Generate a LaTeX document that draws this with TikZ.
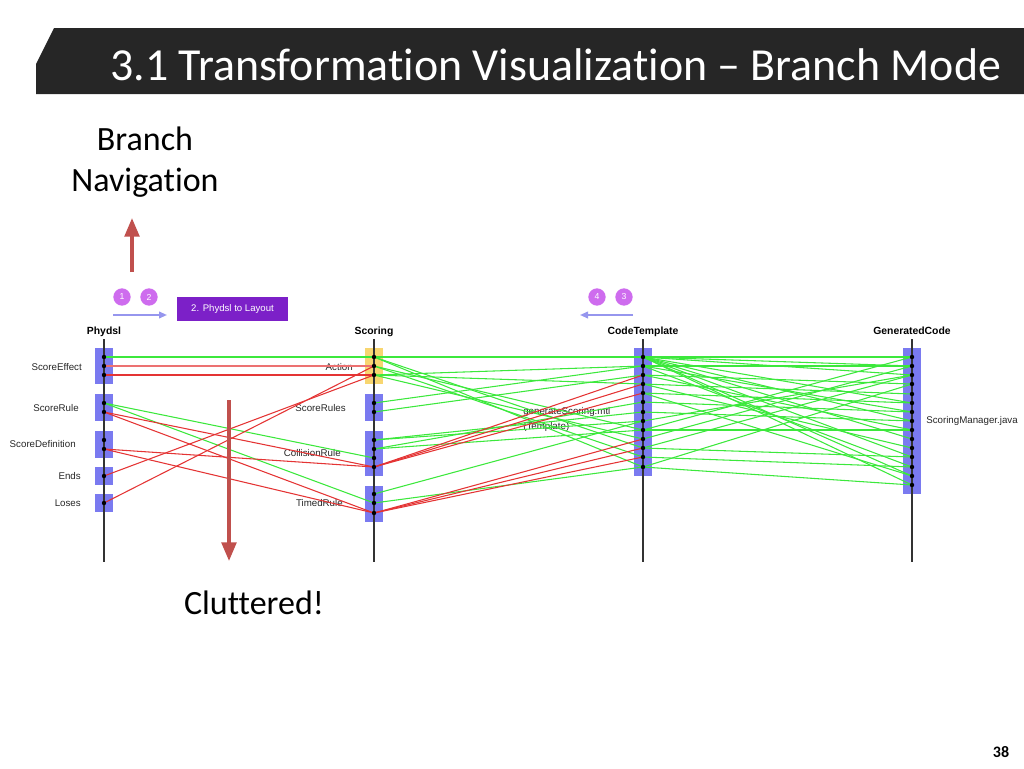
\documentclass[tikz,border=0pt]{standalone}
\usepackage{fontspec}
\setmainfont{Carlito}[Ligatures=NoCommon]
\newfontfamily\arialf{Liberation Sans}
\usetikzlibrary{arrows.meta}
\definecolor{titlebg}{RGB}{38,38,38}
\definecolor{bigred}{RGB}{192,80,77}
\definecolor{laneblue}{RGB}{122,122,240}
\definecolor{laneyellow}{RGB}{248,214,112}
\definecolor{gl}{RGB}{60,232,60}
\definecolor{rl}{RGB}{228,52,52}
\definecolor{circ}{RGB}{206,108,238}
\definecolor{purp}{RGB}{124,32,200}
\definecolor{flow}{RGB}{150,150,238}
\tikzset{
  lanebox/.style={fill=laneblue,draw=none},
  yelbox/.style={fill=laneyellow,draw=none},
  laneline/.style={draw=black!80,line width=0.8pt},
  gline/.style={draw=gl,line width=0.8pt},
  rline/.style={draw=rl,line width=0.8pt},
  dotmark/.style={circle,fill=black,inner sep=0pt,minimum size=3.3pt},
  lbl/.style={font=\arialf\fontsize{7.3}{8}\selectfont,inner sep=0pt,text=black!85},
  lanetitle/.style={font=\arialf\bfseries\fontsize{7.8}{9}\selectfont,inner sep=0pt,anchor=base},
  stepcirc/.style={circle,fill=circ,text=white,inner sep=0pt,minimum size=13pt,font=\arialf\fontsize{6.5}{7}\selectfont},
  bigarrow/.style={draw=bigred,line width=2.6pt,-{Triangle[width=11pt,length=14pt]}},
  flowarrow/.style={draw=flow,line width=1.3pt,-{Triangle[width=5pt,length=6pt]}},
  bigtext/.style={anchor=base,font=\fontsize{25.5}{30}\selectfont,inner sep=0pt},
}
\begin{document}
\begin{tikzpicture}[x=0.75pt,y=-0.75pt]
\useasboundingbox (0,0) rectangle (1024,768);
% title bar
\fill[titlebg] (54,28) -- (1024,28) -- (1024,94) -- (36,94) -- (36,64) -- cycle;
\node[anchor=base west,text=white,font=\fontsize{34.4}{40}\selectfont,inner sep=0pt] (title) at (110,80) {3.1 Transformation Visualization – Branch Mode};

% Branch navigation text
\node[bigtext] (br1) at (145,150) {Branch};
\node[bigtext] (br2) at (145,191) {Navigation};
\node[bigtext] (clut) at (254,614) {Cluttered!};
\node[anchor=base,font=\bfseries\fontsize{12}{14}\selectfont,inner sep=0pt] (pnum) at (1001,757) {38};

% step circles and flow arrows
\node[stepcirc] (c1) at (122,297) {1};
\node[stepcirc] (c2) at (149,297) {2};
\node[stepcirc] (c4) at (597,297) {4};
\node[stepcirc] (c3) at (624,297) {3};
\coordinate (fa1) at (113,315); \coordinate (fa2) at (167,315);
\coordinate (fb1) at (633,315); \coordinate (fb2) at (580,315);
\draw[flowarrow] (fa1) -- (fa2);
\draw[flowarrow] (fb1) -- (fb2);
\node[fill=purp,text=white,minimum width=83.25pt,minimum height=18pt,inner sep=0pt,font=\arialf\fontsize{7.2}{8}\selectfont] (mode) at (232.5,309) {2. Phydsl to Layout};

% lane titles
\node[lanetitle] (tP) at (104,334) {Phydsl};
\node[lanetitle] (tS) at (374,334) {Scoring};
\node[lanetitle] (tC) at (643,334) {CodeTemplate};
\node[lanetitle] (tG) at (912,334) {GeneratedCode};

% boxes
\fill[lanebox] (95,348) rectangle (113,384);
\fill[lanebox] (95,394) rectangle (113,421);
\fill[lanebox] (95,431) rectangle (113,458);
\fill[lanebox] (95,467) rectangle (113,485);
\fill[lanebox] (95,494) rectangle (113,512);
\fill[yelbox]  (365,348) rectangle (383,384);
\fill[lanebox] (365,394) rectangle (383,421);
\fill[lanebox] (365,431) rectangle (383,476);
\fill[lanebox] (365,486) rectangle (383,522);
\fill[lanebox] (634,348) rectangle (652,476);
\fill[lanebox] (903,348) rectangle (921,494);

% lane lines
\coordinate (lP1) at (104,339); \coordinate (lP2) at (104,562);
\coordinate (lS1) at (374,339); \coordinate (lS2) at (374,562);
\coordinate (lC1) at (643,339); \coordinate (lC2) at (643,562);
\coordinate (lG1) at (912,339); \coordinate (lG2) at (912,562);
\draw[laneline] (lP1) -- (lP2);
\draw[laneline] (lS1) -- (lS2);
\draw[laneline] (lC1) -- (lC2);
\draw[laneline] (lG1) -- (lG2);

% dot coordinates
\foreach \n/\y in {1/357,2/366,3/375,4/403,5/412,6/440,7/449,8/476,9/503}
  \coordinate (P\n) at (104,\y);
\foreach \n/\y in {1/357,2/366,3/375,4/403,5/412,6/440,7/449,8/458,9/467,10/494,11/503,12/513}
  \coordinate (S\n) at (374,\y);
\foreach \n/\y in {1/357,2/366,3/375,4/384,5/393,6/402,7/412,8/421,9/430,10/439,11/448,12/457,13/467}
  \coordinate (C\n) at (643,\y);
\foreach \n/\y in {1/357,2/366,3/375,4/384,5/394,6/403,7/412,8/421,9/430,10/439,11/448,12/457,13/467,14/476,15/485}
  \coordinate (G\n) at (912,\y);

% labels
\node[lbl,anchor=east] (lScoreEffect) at (82,367) {ScoreEffect};
\node[lbl,anchor=east] (lScoreRule) at (79,408) {ScoreRule};
\node[lbl,anchor=east] (lScoreDef) at (76,444) {ScoreDefinition};
\node[lbl,anchor=east] (lEnds) at (81,476) {Ends};
\node[lbl,anchor=east] (lLoses) at (81,503) {Loses};
\node[lbl,anchor=east] (lAction) at (353,367) {Action};
\node[lbl,anchor=east] (lScoreRules) at (346,408) {ScoreRules};
\node[lbl,anchor=east] (lCollision) at (341,453) {CollisionRule};
\node[lbl,anchor=east] (lTimed) at (343,503) {TimedRule};
\node[lbl,anchor=west] (lGen) at (523,412) {generateScoring.mtl};
\node[lbl,anchor=west] (lTpl) at (523,427) {(Template)};
\node[lbl,anchor=west] (lSM) at (926,421) {ScoringManager.java};

% Phydsl -> Scoring
\foreach \a/\b in {P1/S1,P4/S8,P4/S11}
  \draw[gline] (\a) -- (\b);
\draw[rl!70,line width=1.6pt] (P2) -- (S2);
\foreach \a/\b in {P3/S3,P5/S9,P5/S12,P7/S9,P7/S12,P8/S3,P9/S2}
  \draw[rline] (\a) -- (\b);

% Scoring -> CodeTemplate
\foreach \a/\b in {S1/C1,S1/C11,S1/C13,S2/C12,S2/C9,S3/C10,S3/C2,S3/C4,S4/C2,S5/C3,S6/C7,S6/C8,S7/C6,S7/C9,S10/C8,S11/C13}
  \draw[gline] (\a) -- (\b);
\foreach \a/\b in {S9/C3,S9/C4,S9/C5,S12/C10,S12/C11,S12/C12}
  \draw[rline] (\a) -- (\b);

% CodeTemplate -> GeneratedCode
\foreach \a/\b in {C1/G1,C1/G2,C1/G3,C1/G6,C1/G8,C1/G10,C1/G12,C1/G14,C1/G15,C2/G2,C2/G7,C2/G13,C3/G4,C3/G9,C4/G5,C4/G11,C5/G6,C5/G14,C6/G7,C7/G8,C8/G3,C9/G9,C9/G1,C10/G2,C11/G12,C11/G3,C12/G13,C13/G15,C13/G4}
  \draw[gline] (\a) -- (\b);

% dots
\foreach \n in {1,...,9} \node[dotmark] (dP\n) at (P\n) {};
\foreach \n in {1,...,12} \node[dotmark] (dS\n) at (S\n) {};
\foreach \n in {1,...,13} \node[dotmark] (dC\n) at (C\n) {};
\foreach \n in {1,...,15} \node[dotmark] (dG\n) at (G\n) {};

% big red arrows
\coordinate (ua1) at (132,272); \coordinate (ua2) at (132,218);
\coordinate (da1) at (229,400); \coordinate (da2) at (229,561);
\draw[bigarrow] (ua1) -- (ua2);
\draw[bigarrow] (da1) -- (da2);
\end{tikzpicture}
\end{document}
